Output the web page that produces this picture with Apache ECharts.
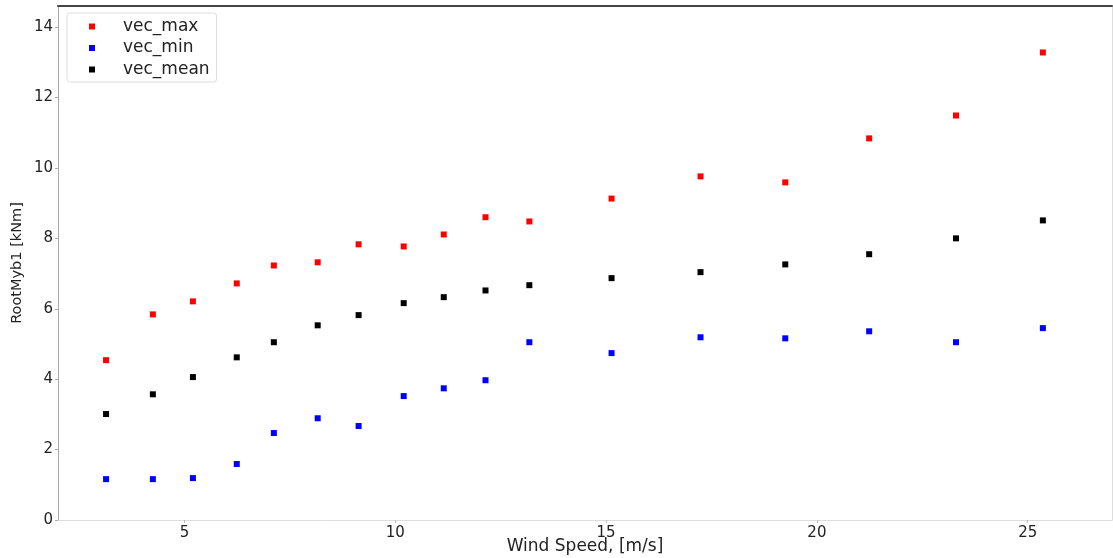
<!DOCTYPE html>
<html>
<head>
<meta charset="utf-8">
<script src="https://cdn.jsdelivr.net/npm/echarts@6/dist/echarts.min.js"></script>
<style>
    html, body {margin: 0; padding: 0; background: #fff;}
    #chart {width: 1113px; height: 558px;}
</style>
</head>
<body>
<div id="chart"></div>
<script>
// wind speed bins, m/s
const windSpeed = [3.14, 4.25, 5.2, 6.24, 7.12, 8.16, 9.13, 10.2, 11.15, 12.14, 13.18, 15.13, 17.24, 19.25, 21.24, 23.3, 25.36];
const vecMax = [4.54, 5.84, 6.21, 6.72, 7.23, 7.32, 7.83, 7.77, 8.11, 8.6, 8.48, 9.13, 9.76, 9.59, 10.84, 11.49, 13.28];
const vecMin = [1.16, 1.16, 1.19, 1.59, 2.47, 2.89, 2.67, 3.52, 3.74, 3.97, 5.05, 4.74, 5.19, 5.16, 5.36, 5.05, 5.45];
const vecMean = [3.01, 3.57, 4.06, 4.62, 5.05, 5.53, 5.82, 6.16, 6.33, 6.52, 6.67, 6.87, 7.04, 7.26, 7.55, 8.0, 8.51];
const xTicks = [5, 10, 15, 20, 25];
const yTicks = [0, 2, 4, 6, 8, 10, 12, 14];

const font = 'DejaVu Sans';
const pts = (ys) => windSpeed.map((x, i) => [x, ys[i]]);
const scatter = (name, ys, color) => ({
    name: name,
    type: 'scatter',
    symbol: 'rect',
    symbolSize: 6,
    itemStyle: {color: color, opacity: 1},
    data: pts(ys)
});

const chart = echarts.init(document.getElementById('chart'), null, {renderer: 'canvas'});
chart.setOption({
    animation: false,
    textStyle: {fontFamily: font},
    grid: {left: 58, right: 1, top: 6, bottom: 38, outerBoundsMode: 'none'},
    legend: {
        orient: 'vertical',
        left: 67, top: 13,
        padding: [5, 7, 4, 22],
        itemWidth: 6, itemHeight: 6,
        itemGap: 4.5,
        icon: 'rect',
        borderColor: '#ddd', borderWidth: 1, borderRadius: 3,
        textStyle: {fontFamily: font, fontSize: 17, color: '#222', padding: [0, 0, 0, 23]},
        data: ['vec_max', 'vec_min', 'vec_mean']
    },
    xAxis: [{
        type: 'value', min: 2, max: 27,
        name: 'Wind Speed, [m/s]', nameLocation: 'middle', nameGap: 18,
        nameMoveOverlap: false,
        nameTextStyle: {fontFamily: font, fontSize: 17, color: '#222'},
        axisLine: {onZero: false, lineStyle: {color: '#ddd', width: 1}},
        axisTick: {show: true, length: 3, customValues: xTicks, lineStyle: {color: '#bbb'}},
        axisLabel: {customValues: xTicks, margin: 6, fontFamily: font, fontSize: 15, color: '#222'},
        splitLine: {show: false}
    }, {
        type: 'value', min: 2, max: 27, position: 'top',
        axisLine: {onZero: false, lineStyle: {color: '#444', width: 2}},
        axisTick: {show: false}, axisLabel: {show: false}, splitLine: {show: false}
    }],
    yAxis: [{
        type: 'value', min: 0, max: 14.6,
        name: 'RootMyb1 [kNm]', nameLocation: 'middle', nameGap: 33,
        nameMoveOverlap: false,
        nameTextStyle: {fontFamily: font, fontSize: 14.5, color: '#222'},
        axisLine: {show: true, onZero: false, lineStyle: {color: '#aaa', width: 1}},
        axisTick: {show: true, length: 3, customValues: yTicks, lineStyle: {color: '#aaa'}},
        axisLabel: {customValues: yTicks, margin: 5, fontFamily: font, fontSize: 15, color: '#222'},
        splitLine: {show: false}
    }, {
        type: 'value', min: 0, max: 14.6, position: 'right',
        axisLine: {show: true, onZero: false, lineStyle: {color: '#ddd', width: 1}},
        axisTick: {show: false}, axisLabel: {show: false}, splitLine: {show: false}
    }],
    series: [
        scatter('vec_max', vecMax, '#ff0000'),
        scatter('vec_min', vecMin, '#0000ff'),
        scatter('vec_mean', vecMean, '#000000')
    ]
});
</script>
</body>
</html>
